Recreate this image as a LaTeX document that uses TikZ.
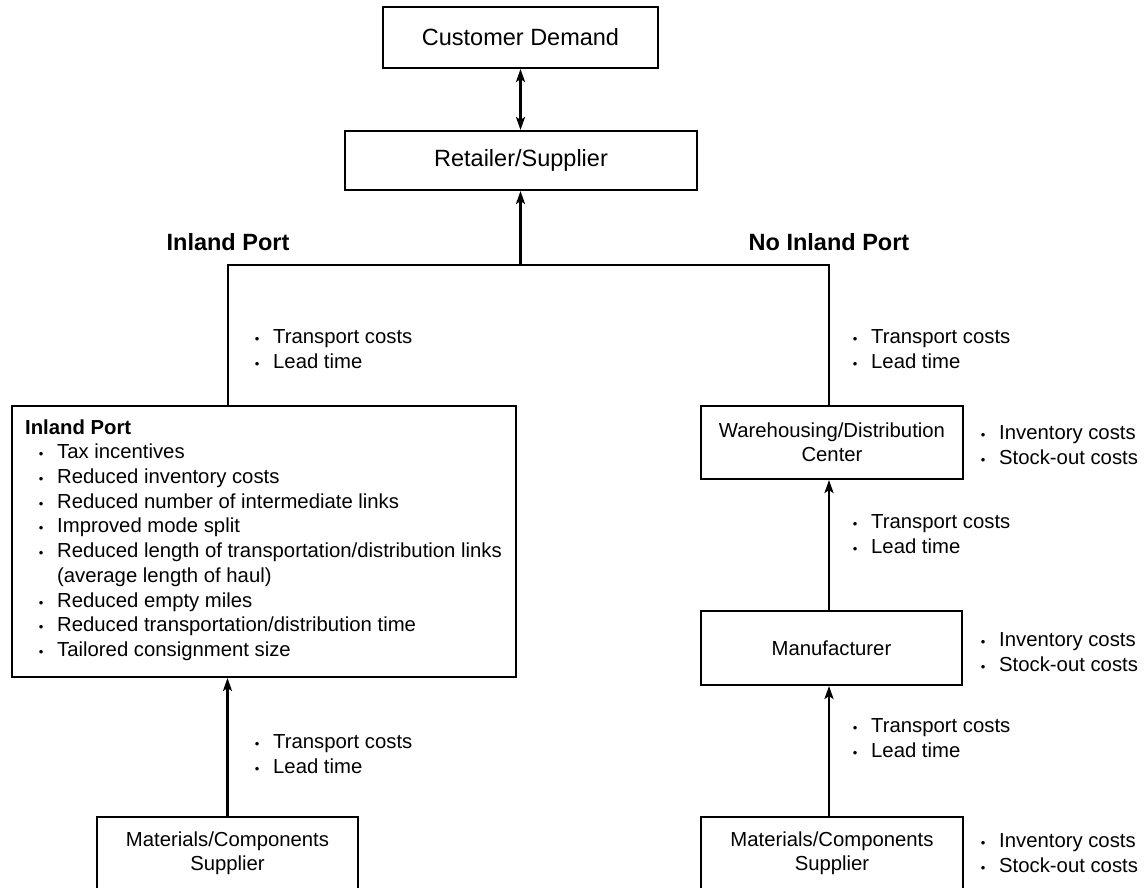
\documentclass[tikz,border=0pt]{standalone}
\usepackage{fontspec}
\setmainfont{Liberation Sans}
\usetikzlibrary{arrows.meta}
\newcommand{\bul}{\makebox[0pt]{\fontsize{13}{13}\selectfont\textbullet}\hspace*{16pt}}
\tikzset{
  box/.style={draw, line width=2pt, inner sep=0pt, align=center, font=\fontsize{20.3}{24}\selectfont},
  bigbox/.style={box, font=\fontsize{23.5}{28}\selectfont},
  lbl/.style={anchor=north west, inner sep=0pt, align=left, font=\fontsize{20.3}{25}\selectfont},
  hdr/.style={anchor=base, inner sep=0pt, font=\fontsize{23.5}{28}\selectfont\bfseries},
  conn/.style={line width=2.8pt, line join=miter},
  tip/.tip={Stealth[length=13pt,width=9pt,inset=3pt]},
  arr/.style={conn, -tip},
}
\begin{document}
\begin{tikzpicture}[x=1pt,y=-1pt]
\useasboundingbox (0,0) rectangle (1144,888);
\clip (0,0) rectangle (1144,888);

% boxes
\node[bigbox, minimum width=275pt, minimum height=61pt] (cd) at (520.5,37.5) {Customer Demand};
\node[bigbox, minimum width=352pt, minimum height=59pt] (rs) at (521,160.5) {Retailer/Supplier};
\node[box, minimum width=504pt, minimum height=271pt] (ip) at (264,541.5) {};
\node[box, minimum width=262pt, minimum height=73pt] (wdc) at (832,442.5) {Warehousing/Distribution\\Center};
\node[box, minimum width=261pt, minimum height=74pt] (man) at (831.5,648) {Manufacturer};
\node[box, minimum width=262pt, minimum height=73pt] (msr) at (832,853.5) {Materials/Components\\Supplier};
\node[box, minimum width=261pt, minimum height=73pt] (msl) at (227.5,853.5) {Materials/Components\\Supplier};

% inland port box text
\node[lbl, font=\fontsize{20.3}{24.7}\selectfont] (ipt) at (25,416.7) {\strut\textbf{Inland Port}\\
\hspace*{16pt}\bul Tax incentives\\
\hspace*{16pt}\bul Reduced inventory costs\\
\hspace*{16pt}\bul Reduced number of intermediate links\\
\hspace*{16pt}\bul Improved mode split\\
\hspace*{16pt}\bul Reduced length of transportation/distribution links\\
\hspace*{32pt}(average length of haul)\\
\hspace*{16pt}\bul Reduced empty miles\\
\hspace*{16pt}\bul Reduced transportation/distribution time\\
\hspace*{16pt}\bul Tailored consignment size};

% headers
\node[hdr] (hip) at (228,251) {Inland Port};
\node[hdr] (hnip) at (829,251) {No Inland Port};

% side labels
\node[lbl] (tl) at (257,325.5) {\strut\bul Transport costs\\\bul Lead time};
\node[lbl] (tr) at (855,325.5) {\strut\bul Transport costs\\\bul Lead time};
\node[lbl] (wdcs) at (983,421.5) {\strut\bul Inventory costs\\\bul Stock-out costs};
\node[lbl] (mr) at (855,510.5) {\strut\bul Transport costs\\\bul Lead time};
\node[lbl] (mans) at (983,628.5) {\strut\bul Inventory costs\\\bul Stock-out costs};
\node[lbl] (br) at (855,714.5) {\strut\bul Transport costs\\\bul Lead time};
\node[lbl] (bl) at (257,730.5) {\strut\bul Transport costs\\\bul Lead time};
\node[lbl] (msrs) at (983,829.5) {\strut\bul Inventory costs\\\bul Stock-out costs};

% connectors
\coordinate (j) at (520.5,265);
\coordinate (hl) at (228,265);
\coordinate (hr) at (829,265);
\draw[conn, tip-tip] (cd.south) -- (cd.south |- rs.north);
\draw[arr] (j) -- (j |- rs.south);
\draw[conn] (hl |- ip.north) -- (hl) -- (hr) -- (hr |- wdc.north);
\draw[arr] (man.north -| hr) -- (wdc.south -| hr);
\draw[arr] (msr.north -| hr) -- (man.south -| hr);
\draw[arr] (msl.north) -- (msl.north |- ip.south);
\end{tikzpicture}
\end{document}
